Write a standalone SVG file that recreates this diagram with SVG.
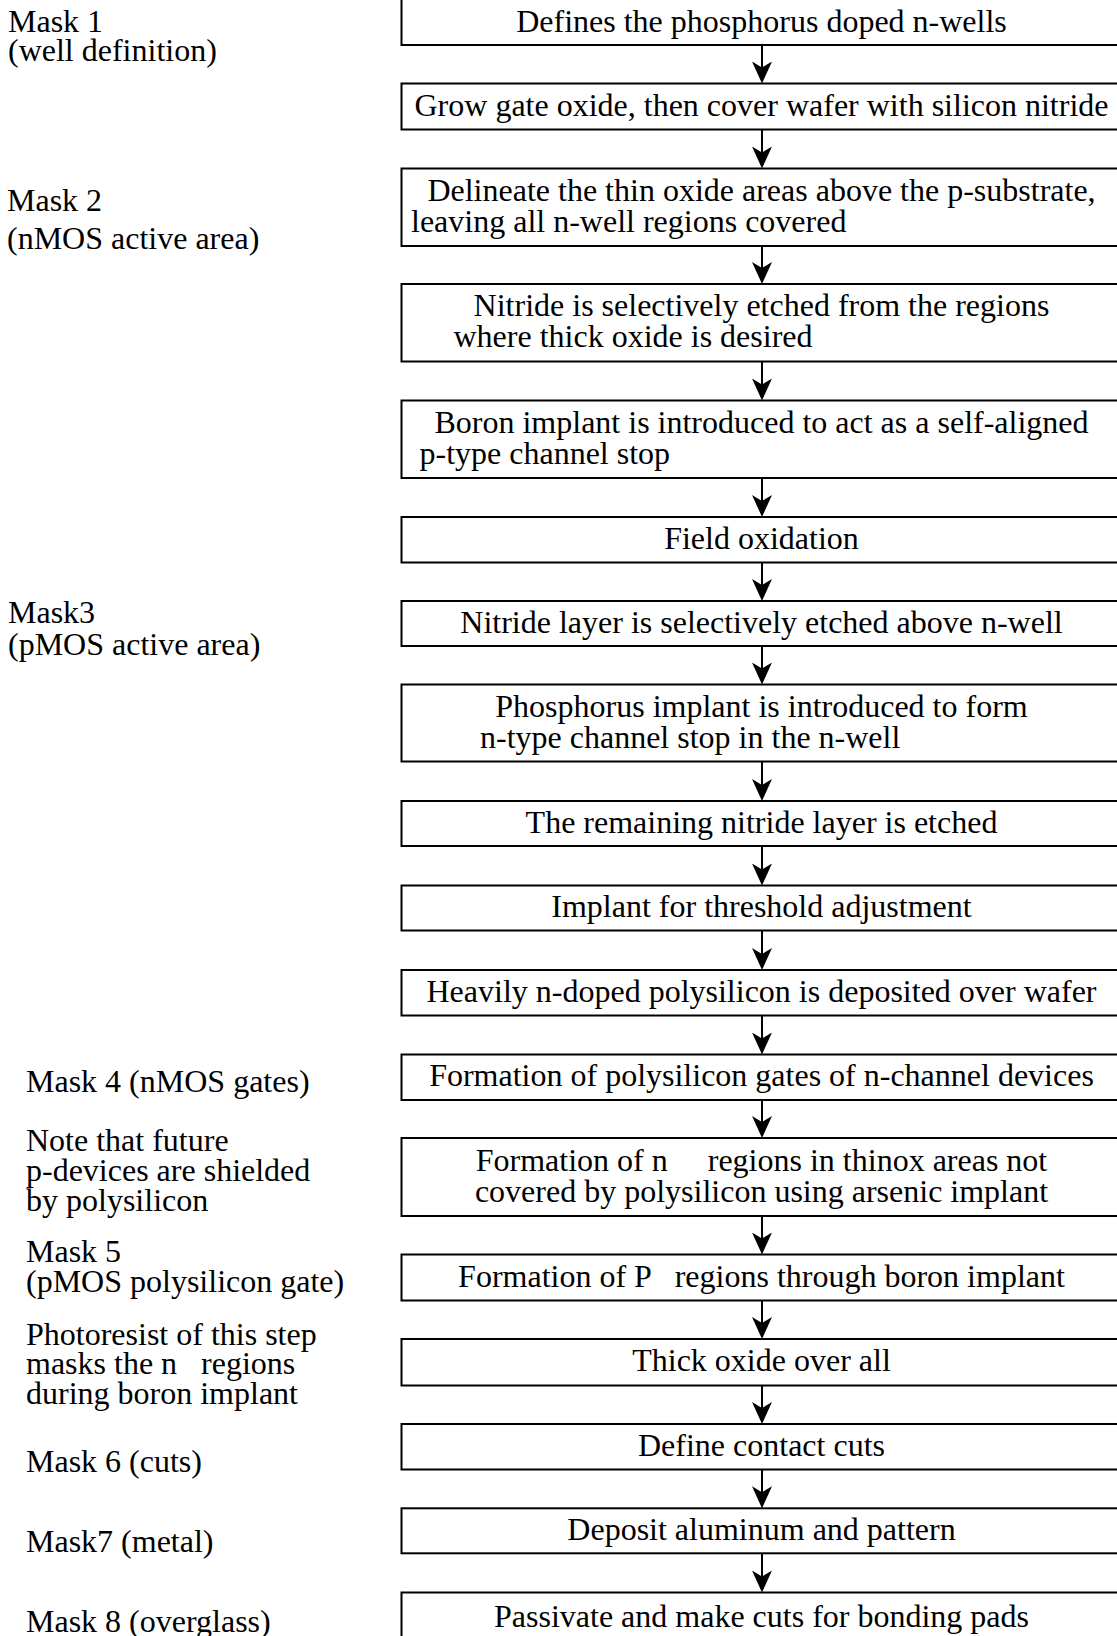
<svg xmlns="http://www.w3.org/2000/svg" width="1117" height="1636" viewBox="0 0 1117 1636">
<style>
.box{fill:#fff;stroke:#000;stroke-width:2}
.t{font-family:"Liberation Serif","Times New Roman",serif;font-size:32px;fill:#000}
.c{text-anchor:middle}
.lbl{font-family:"Liberation Serif","Times New Roman",serif;font-size:32px;fill:#000}
.arr{stroke:#000;stroke-width:2;fill:none;marker-end:url(#ah)}
</style>
<defs>
<marker id="ah" viewBox="0 0 22 20" refX="14" refY="10" markerWidth="22" markerHeight="20" markerUnits="userSpaceOnUse" orient="auto">
<path d="M0,0 L22,10 L0,20 L6,10 Z" fill="#000"/>
</marker>
</defs>
<rect width="1117" height="1636" fill="#fff"/>

<g id="labels">
<text class="lbl" x="8" y="31.5">Mask 1</text>
<text class="lbl" x="8" y="61">(well definition)</text>
<text class="lbl" x="7" y="210.5">Mask 2</text>
<text class="lbl" x="7" y="249">(nMOS active area)</text>
<text class="lbl" x="8" y="623">Mask3</text>
<text class="lbl" x="8" y="655">(pMOS active area)</text>
<text class="lbl" x="26" y="1092">Mask 4 (nMOS gates)</text>
<text class="lbl" x="26" y="1151">Note that future</text>
<text class="lbl" x="26" y="1181">p-devices are shielded</text>
<text class="lbl" x="26" y="1211">by polysilicon</text>
<text class="lbl" x="26" y="1261.5">Mask 5</text>
<text class="lbl" x="26" y="1291.5">(pMOS polysilicon gate)</text>
<text class="lbl" x="26" y="1345">Photoresist of this step</text>
<text class="lbl" x="26" y="1374" xml:space="preserve">masks the n   regions</text>
<text class="lbl" x="26" y="1404">during boron implant</text>
<text class="lbl" x="26" y="1471.5">Mask 6 (cuts)</text>
<text class="lbl" x="26" y="1551.5">Mask7 (metal)</text>
<text class="lbl" x="26" y="1631.5">Mask 8 (overglass)</text>
</g>

<g id="connectors">
<path class="arr" d="M762,45 V75.5"/>
<path class="arr" d="M762,129.5 V160.5"/>
<path class="arr" d="M762,246 V276"/>
<path class="arr" d="M762,361.5 V392.5"/>
<path class="arr" d="M762,478 V509"/>
<path class="arr" d="M762,562.5 V593"/>
<path class="arr" d="M762,646 V676.5"/>
<path class="arr" d="M762,761.5 V793"/>
<path class="arr" d="M762,846 V877.5"/>
<path class="arr" d="M762,930.5 V962"/>
<path class="arr" d="M762,1015.5 V1046.5"/>
<path class="arr" d="M762,1100 V1130"/>
<path class="arr" d="M762,1216 V1246.5"/>
<path class="arr" d="M762,1300.5 V1331"/>
<path class="arr" d="M762,1385.5 V1416"/>
<path class="arr" d="M762,1469.5 V1500.3"/>
<path class="arr" d="M762,1553.3 V1584.5"/>
</g>

<g id="n1"><rect class="box" x="401.5" y="-3" width="730" height="48"/>
<text class="t c" x="761.5" y="32">Defines the phosphorus doped n-wells</text></g>
<g id="n2"><rect class="box" x="401.5" y="83.5" width="730" height="46"/>
<text class="t c" x="761.5" y="115.5">Grow gate oxide, then cover wafer with silicon nitride</text></g>
<g id="n3"><rect class="box" x="401.5" y="168.5" width="730" height="77.5"/>
<text class="t c" x="761.5" y="200.75">Delineate the thin oxide areas above the p-substrate,</text>
<text class="t" x="411" y="231.75">leaving all n-well regions covered</text></g>
<g id="n4"><rect class="box" x="401.5" y="284" width="730" height="77.5"/>
<text class="t c" x="761.5" y="316.25">Nitride is selectively etched from the regions</text>
<text class="t" x="453.5" y="347.25">where thick oxide is desired</text></g>
<g id="n5"><rect class="box" x="401.5" y="400.5" width="730" height="77.5"/>
<text class="t c" x="761.5" y="432.75">Boron implant is introduced to act as a self-aligned</text>
<text class="t" x="419.5" y="463.75">p-type channel stop</text></g>
<g id="n6"><rect class="box" x="401.5" y="517" width="730" height="45.5"/>
<text class="t c" x="761.5" y="548.75">Field oxidation</text></g>
<g id="n7"><rect class="box" x="401.5" y="601" width="730" height="45"/>
<text class="t c" x="761.5" y="632.5">Nitride layer is selectively etched above n-well</text></g>
<g id="n8"><rect class="box" x="401.5" y="684.5" width="730" height="77"/>
<text class="t c" x="761.5" y="716.5">Phosphorus implant is introduced to form</text>
<text class="t" x="480" y="747.5">n-type channel stop in the n-well</text></g>
<g id="n9"><rect class="box" x="401.5" y="801" width="730" height="45"/>
<text class="t c" x="761.5" y="832.5">The remaining nitride layer is etched</text></g>
<g id="n10"><rect class="box" x="401.5" y="885.5" width="730" height="45"/>
<text class="t c" x="761.5" y="917">Implant for threshold adjustment</text></g>
<g id="n11"><rect class="box" x="401.5" y="970" width="730" height="45.5"/>
<text class="t c" x="761.5" y="1001.75">Heavily n-doped polysilicon is deposited over wafer</text></g>
<g id="n12"><rect class="box" x="401.5" y="1054.5" width="730" height="45.5"/>
<text class="t c" x="761.5" y="1086.25">Formation of polysilicon gates of n-channel devices</text></g>
<g id="n13"><rect class="box" x="401.5" y="1138" width="730" height="78"/>
<text class="t c" x="761.5" y="1170.5" xml:space="preserve">Formation of n     regions in thinox areas not</text>
<text class="t c" x="761.5" y="1201.5">covered by polysilicon using arsenic implant</text></g>
<g id="n14"><rect class="box" x="401.5" y="1254.5" width="730" height="46"/>
<text class="t c" x="761.5" y="1286.5" xml:space="preserve">Formation of P   regions through boron implant</text></g>
<g id="n15"><rect class="box" x="401.5" y="1339" width="730" height="46.5"/>
<text class="t c" x="761.5" y="1371.25">Thick oxide over all</text></g>
<g id="n16"><rect class="box" x="401.5" y="1424" width="730" height="45.5"/>
<text class="t c" x="761.5" y="1455.75">Define contact cuts</text></g>
<g id="n17"><rect class="box" x="401.5" y="1508.3" width="730" height="45"/>
<text class="t c" x="761.5" y="1539.8">Deposit aluminum and pattern</text></g>
<g id="n18"><rect class="box" x="401.5" y="1592.5" width="730" height="60"/>
<text class="t c" x="761.5" y="1626.5">Passivate and make cuts for bonding pads</text></g>
</svg>
